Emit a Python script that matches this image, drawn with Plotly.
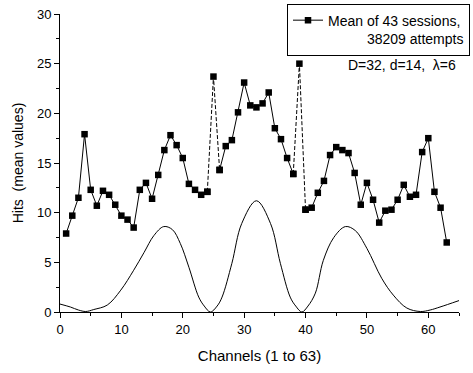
import plotly.graph_objects as go

channels = list(range(1, 64))
hits = [7.9, 9.7, 11.5, 17.9, 12.3, 10.7, 12.2, 11.8, 10.8, 9.7,
        9.3, 8.5, 12.3, 13.0, 11.4, 13.8, 16.3, 17.8, 16.8, 15.5,
        12.9, 12.3, 11.8, 12.1, 23.7, 14.3, 16.7, 17.3, 20.1, 23.1,
        20.8, 20.6, 21.0, 22.1, 18.5, 17.4, 15.5, 13.9, 25.0, 10.3,
        10.5, 12.0, 13.2, 15.8, 16.6, 16.3, 16.0, 14.0, 10.8, 13.0,
        11.3, 9.0, 10.2, 10.3, 11.3, 12.8, 11.6, 11.8, 16.1, 17.5,
        12.1, 10.5, 7.0]
outlier_channels = [25, 39]

curve_x = [0, 1.7, 3, 4.2, 5.5, 7.7, 9.9, 12.0, 13.7, 15.3, 16.9, 18.3, 19.6,
           21.0, 22.6, 23.5, 24.5, 25.6, 26.4, 28.0, 29.6, 32.0, 34.3, 35.9,
           37.5, 38.4, 39.4, 40.4, 41.6, 42.9, 44.6, 46.5, 48.1, 50.0, 52.4,
           54.3, 56.5, 58.7, 60.3, 61.9, 65]
curve_y = [0.8, 0.5, 0.2, 0.05, 0.25, 0.7, 2.2, 4.2, 6.0, 7.7, 8.6, 8.3, 6.9,
           4.5, 1.5, 0.6, 0.0, 0.6, 1.5, 4.9, 8.9, 11.2, 8.9, 4.9,
           1.5, 0.6, 0.0, 0.6, 1.9, 5.2, 7.5, 8.6, 8.2, 6.4, 3.4,
           1.7, 0.4, 0.05, 0.2, 0.5, 1.15]

legend_text = "Mean of 43 sessions,<br>" + "&nbsp;" * 10 + "38209 attempts"
param_text = "D=32, d=14,  λ=6"

FONT = "Liberation Sans, Arial, sans-serif"

solid_y = [None if c in outlier_channels else v for c, v in zip(channels, hits)]

fig = go.Figure()
fig.add_trace(go.Scatter(x=curve_x, y=curve_y, mode="lines",
                         line=dict(color="black", width=1, shape="spline"),
                         showlegend=False))
for c in outlier_channels:
    i = channels.index(c)
    fig.add_trace(go.Scatter(x=channels[i - 1:i + 2], y=hits[i - 1:i + 2],
                             mode="lines+markers",
                             line=dict(color="black", width=1, dash="4px,2px"),
                             marker=dict(symbol="square", size=6.5, color="black"),
                             showlegend=False))
fig.add_trace(go.Scatter(x=channels, y=solid_y, mode="lines+markers",
                         name=legend_text,
                         line=dict(color="black", width=1),
                         marker=dict(symbol="square", size=6.5, color="black"),
                         connectgaps=False))

fig.add_annotation(x=0.9975, y=0.828, xref="paper", yref="paper",
                   xanchor="right", yanchor="middle", showarrow=False,
                   text=param_text, font=dict(family=FONT, size=14, color="black"))

axis_common = dict(showgrid=False, zeroline=False, showline=True, linecolor="black",
                   linewidth=1, ticks="outside", ticklen=5, tickcolor="black",
                   tickfont=dict(family=FONT, size=13, color="black"), mirror=False)

fig.update_xaxes(range=[0, 65], dtick=10, tick0=0,
                 minor=dict(dtick=5, ticks="outside", ticklen=3, tickcolor="black"),
                 title=dict(text="Channels (1 to 63)", font=dict(family=FONT, size=15, color="black"),
                            standoff=14),
                 **axis_common)
fig.update_yaxes(range=[0, 30], dtick=5, tick0=0,
                 minor=dict(dtick=2.5, ticks="outside", ticklen=3, tickcolor="black"),
                 title=dict(text="Hits  (mean values)", font=dict(family=FONT, size=14, color="black"),
                            standoff=10),
                 **axis_common)

fig.update_layout(
    width=473, height=373,
    margin=dict(l=60, r=14, t=14, b=61, autoexpand=False),
    paper_bgcolor="white", plot_bgcolor="white",
    showlegend=True,
    legend=dict(x=1.0276, y=1.035, xanchor="right", yanchor="top",
                bordercolor="black", borderwidth=1, bgcolor="white",
                font=dict(family=FONT, size=14, color="black"),
                itemwidth=30, valign="top", tracegroupgap=0),
)

fig.write_html("out.html", config={"displayModeBar": False},
               post_script="document.body.style.margin='0';")
